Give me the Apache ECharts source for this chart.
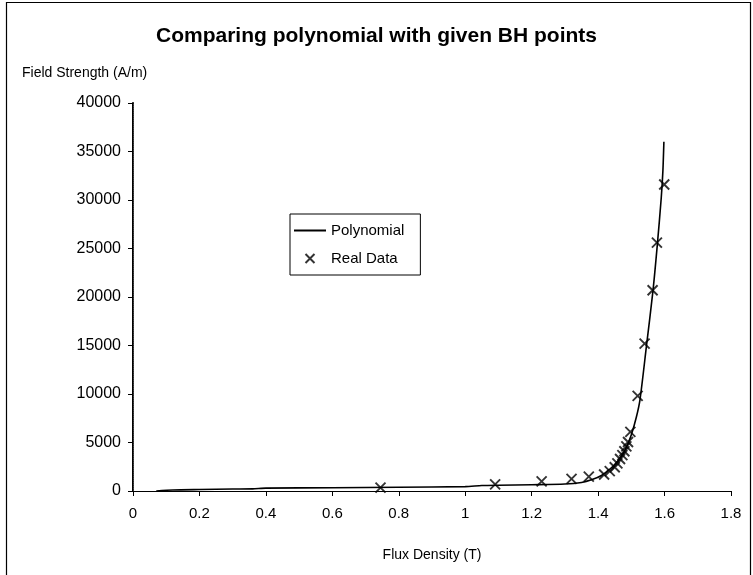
<!DOCTYPE html>
<html>
<head>
<meta charset="utf-8">
<script src="https://cdn.jsdelivr.net/npm/echarts@6/dist/echarts.min.js"></script>
<style>
html,body{margin:0;padding:0;background:#fff;}
#chart{width:753px;height:575px;}
</style>
</head>
<body>
<div id="chart"></div>
<script>
// Flux density (T) values of the fitted polynomial curve
const polyB = [0.07, 0.12, 0.2, 0.3, 0.36, 0.4, 0.6, 0.8, 1.0, 1.05, 1.1, 1.2, 1.3, 1.35, 1.38, 1.41, 1.44, 1.465, 1.485, 1.5, 1.515, 1.526, 1.545, 1.565, 1.578, 1.59, 1.595, 1.598];
// Field strength (A/m) of the polynomial curve
const polyH = [0, 100, 150, 200, 220, 300, 330, 380, 450, 560, 600, 650, 720, 880, 1150, 1600, 2400, 3300, 4500, 5800, 7600, 9400, 14800, 20600, 25300, 30200, 33000, 36000];
// Real BH data points
const realB = [0.745, 1.09, 1.23, 1.32, 1.372, 1.418, 1.435, 1.45, 1.458, 1.466, 1.473, 1.479, 1.485, 1.49, 1.497, 1.519, 1.54, 1.564, 1.577, 1.599];
const realH = [350, 690, 1000, 1250, 1480, 1700, 2050, 2450, 2850, 3300, 3700, 4100, 4600, 5050, 6100, 9800, 15200, 20700, 25600, 31600];
const xTicks = [0, 0.2, 0.4, 0.6, 0.8, 1, 1.2, 1.4, 1.6, 1.8];
const yTicks = [0, 5000, 10000, 15000, 20000, 25000, 30000, 35000, 40000];

const FONT = 'Liberation Sans, Arial, sans-serif';
const chart = echarts.init(document.getElementById('chart'), null, {renderer: 'canvas'});

const polyData = polyB.map((b, i) => [b, polyH[i]]);
const realData = realB.map((b, i) => [b, realH[i]]);

chart.setOption({
  backgroundColor: '#fff',
  animation: false,
  title: {
    text: 'Comparing polynomial with given BH points',
    left: 'center',
    top: 21,
    textStyle: {fontFamily: FONT, fontSize: 21, fontWeight: 'bold', color: '#000'}
  },
  graphic: [
    {type: 'rect', shape: {x: 6.5, y: 2.5, width: 744, height: 590}, style: {fill: 'none', stroke: '#000', lineWidth: 1.2}, silent: true},
    {type: 'text', left: 22, top: 66, style: {text: 'Field Strength (A/m)', font: '14px ' + FONT, fill: '#000'}}
  ],
  legend: {
    orient: 'vertical',
    left: 290,
    top: 214,
    itemWidth: 32,
    itemHeight: 9,
    itemGap: 13,
    padding: [9, 16, 9, 3],
    borderColor: '#000',
    borderWidth: 1,
    textStyle: {fontFamily: FONT, fontSize: 15, color: '#000'},
    data: [{name: 'Polynomial', itemStyle: {opacity: 0}}, 'Real Data']
  },
  grid: {left: 133, right: 22, top: 103, bottom: 84, show: false},
  xAxis: [{
    type: 'value', min: 0, max: 1.8, interval: 0.2,
    name: 'Flux Density (T)', nameLocation: 'middle', nameGap: 57,
    nameTextStyle: {fontFamily: FONT, fontSize: 14, color: '#000'},
    axisLine: {show: true, onZero: false, lineStyle: {color: '#333', width: 1, type: 'dotted'}},
    axisTick: {show: true, length: 5, lineStyle: {color: '#000'}},
    axisLabel: {fontFamily: FONT, fontSize: 15, color: '#000', margin: 15,
      formatter: v => String(+v.toFixed(1))},
    splitLine: {show: false}
  }, {
    type: 'value', min: 0, max: 1.8, position: 'top',
    axisLine: {show: true, lineStyle: {color: '#000', width: 1}},
    axisTick: {show: false}, axisLabel: {show: false}, splitLine: {show: false}
  }],
  yAxis: [{
    type: 'value', min: 0, max: 40000, interval: 5000,
    axisLine: {show: true, lineStyle: {color: '#000', width: 2}},
    axisTick: {show: true, length: 5, lineStyle: {color: '#000'}},
    axisLabel: {fontFamily: FONT, fontSize: 16, color: '#000', margin: 12,
      formatter: v => String(v)},
    splitLine: {show: false}
  }, {
    type: 'value', min: 0, max: 40000, position: 'right',
    axisLine: {show: true, lineStyle: {color: '#444', width: 1, type: 'dotted'}},
    axisTick: {show: false}, axisLabel: {show: false}, splitLine: {show: false}
  }],
  series: [{
    name: 'Polynomial',
    type: 'line',
    data: polyData,
    smooth: 0.25,
    symbol: 'none',
    lineStyle: {color: '#000', width: 1.6},
    itemStyle: {color: '#000'}
  }, {
    name: 'Real Data',
    type: 'scatter',
    data: realData,
    symbol: 'path://M0,0L10,10M10,0L0,10',
    symbolSize: 10,
    itemStyle: {color: 'transparent', borderColor: '#000', borderWidth: 1.9}
  }]
});
</script>
</body>
</html>
